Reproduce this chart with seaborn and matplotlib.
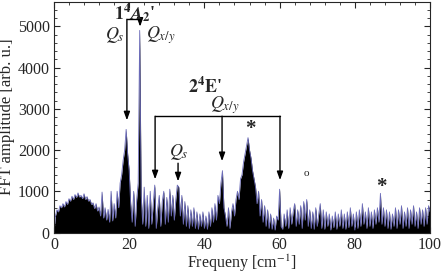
import numpy as np
import matplotlib
matplotlib.use("Agg")
import matplotlib.pyplot as plt
import seaborn as sns
from matplotlib.ticker import MultipleLocator

# FFT amplitude, 0.4 cm^-1 steps, one list per 10 cm^-1
seg_00 = [0, 400, 550, 500, 650, 600, 700, 620, 750, 680, 820, 760, 880, 800, 920,
          850, 960, 860, 900, 820, 940, 800, 870, 760, 800]
seg_10 = [680, 720, 580, 700, 520, 620, 400, 980, 350, 600, 300, 560, 250, 1000, 280,
          700, 350, 1000, 600, 1200, 1400, 1750, 2000, 2500, 1900]
seg_20 = [1500, 700, 250, 1000, 150, 800, 1200, 4900, 900, 200, 1100, 150, 900, 100, 1000,
          200, 700, 1150, 100, 600, 900, 150, 750, 1000, 200]
seg_30 = [850, 250, 1050, 400, 900, 300, 800, 1150, 1100, 400, 900, 200, 750, 150, 650,
          100, 550, 150, 600, 100, 500, 80, 450, 150, 500]
seg_40 = [100, 400, 80, 500, 150, 600, 250, 700, 300, 900, 700, 1200, 1500, 600, 400,
          150, 600, 100, 500, 700, 400, 800, 1000, 800, 1300]
seg_50 = [1400, 1700, 1900, 2100, 2300, 2000, 1800, 1500, 1300, 1100, 700, 1000, 400, 800, 250,
          650, 150, 550, 100, 450, 80, 350, 60, 400, 300]
seg_60 = [1050, 150, 80, 450, 150, 550, 100, 600, 200, 500, 700, 150, 550, 200, 650,
          100, 750, 300, 800, 150, 550, 100, 500, 80, 600]
seg_70 = [150, 450, 700, 100, 550, 80, 500, 150, 450, 60, 400, 120, 500, 80, 450,
          150, 550, 100, 450, 80, 500, 120, 600, 150, 450]
seg_80 = [60, 500, 100, 550, 150, 700, 200, 500, 100, 600, 150, 500, 100, 550, 200,
          600, 250, 950, 200, 600, 150, 550, 100, 500, 80]
seg_90 = [450, 150, 600, 100, 550, 200, 650, 100, 500, 150, 600, 100, 550, 200, 650,
          150, 500, 100, 600, 200, 550, 150, 600, 200, 650]
seg_end = [500]

amp = np.array(seg_00 + seg_10 + seg_20 + seg_30 + seg_40 + seg_50 +
               seg_60 + seg_70 + seg_80 + seg_90 + seg_end, dtype=float)
freq = np.linspace(0, 100, len(amp))

sns.set_style("ticks")
plt.rcParams["font.family"] = ["Liberation Serif", "DejaVu Serif"]
plt.rcParams["mathtext.fontset"] = "stix"

fig = plt.figure(figsize=(4.42, 2.75), dpi=100)
ax = fig.add_axes([0.122, 0.1545, 0.851, 0.84])

ax.fill_between(freq, 0, amp, color="black", lw=0)
sns.lineplot(x=freq, y=amp, ax=ax, color="#6a6ab8", lw=0.6)

ax.set_xlim(0, 100)
ax.set_ylim(0, 5600)
ax.xaxis.set_major_locator(MultipleLocator(20))
ax.xaxis.set_minor_locator(MultipleLocator(4))
ax.yaxis.set_major_locator(MultipleLocator(1000))
ax.yaxis.set_minor_locator(MultipleLocator(200))
ax.tick_params(which="both", direction="in", top=True, right=True, labelsize=11.5, pad=3)
ax.tick_params(which="major", length=4, width=0.8)
ax.tick_params(which="minor", length=2, width=0.6)
for s in ax.spines.values():
    s.set_linewidth(0.8)

ax.set_xlabel("Frequeny [cm$^{-1}$]", fontsize=11.5, labelpad=0)
ax.set_ylabel("FFT amplitude [arb. u.]", fontsize=12, labelpad=2)

arr = dict(arrowstyle="-|>,head_length=0.5,head_width=0.18", color="black", lw=1,
           shrinkA=0, shrinkB=0)

# 1^4A_2' bracket
ax.plot([19.4, 22.9], [5170, 5170], color="black", lw=1)
ax.annotate("", xy=(19.4, 2720), xytext=(19.4, 5170), arrowprops=arr)
ax.annotate("", xy=(22.9, 4990), xytext=(22.9, 5170), arrowprops=arr)
ax.text(21.6, 5330, r"$\mathbf{1^4}\mathbfit{A}_\mathbf{2}$'", fontsize=13,
        fontweight="bold", ha="center", va="center")
ax.text(16.2, 4780, r"$Q_s$", fontsize=13, ha="center", va="center")
ax.text(28.3, 4780, r"$Q_{x/y}$", fontsize=13, ha="center", va="center")

# 2^4E' bracket
ax.plot([26.9, 60.1], [2820, 2820], color="black", lw=1)
ax.annotate("", xy=(26.9, 1290), xytext=(26.9, 2820), arrowprops=arr)
ax.annotate("", xy=(44.7, 1730), xytext=(44.7, 2820), arrowprops=arr)
ax.annotate("", xy=(60.1, 1270), xytext=(60.1, 2820), arrowprops=arr)
ax.text(40.2, 3520, r"$\mathbf{2^4E}$'", fontsize=13, fontweight="bold",
        ha="center", va="center")
ax.text(45.4, 3090, r"$Q_{x/y}$", fontsize=13, ha="center", va="center")

# Q_s near 33
ax.annotate("", xy=(33.0, 1240), xytext=(33.0, 1680), arrowprops=arr)
ax.text(33.3, 1960, r"$Q_s$", fontsize=13, ha="center", va="center")

# markers
ax.text(52.1, 2500, "*", fontsize=15, fontweight="bold", ha="center", va="center")
ax.text(87.0, 1100, "*", fontsize=15, fontweight="bold", ha="center", va="center")
ax.text(67.0, 1440, "o", fontsize=8, ha="center", va="center")

fig.savefig("out.png", dpi=100)
